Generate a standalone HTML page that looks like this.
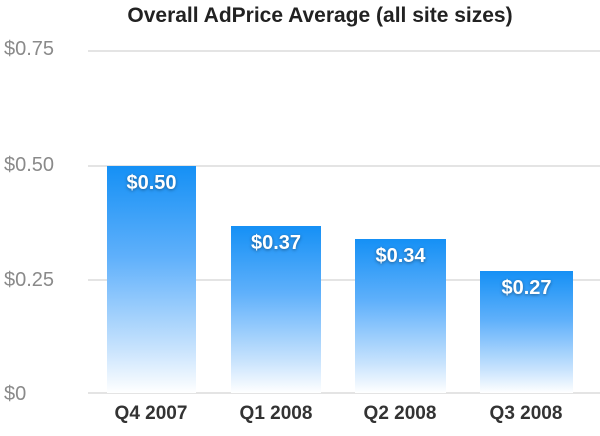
<!DOCTYPE html>
<html><head><style>
body{margin:0;width:600px;height:436px;background:#fff;position:relative;overflow:hidden;font-family:"Liberation Sans",sans-serif}
.t{position:absolute;left:0;width:100%;top:4px;text-align:center;font-weight:bold;font-size:21px;color:#222;padding-left:40px;box-sizing:border-box}
.g{position:absolute;left:88px;right:0;height:2px;background:#e4e4e4}
.y{position:absolute;left:4px;font-size:20px;color:#8a8a8a}
.b{position:absolute;bottom:43px;background:linear-gradient(#1590f5,#5fb0fb 40%,#c6e2fd 80%,#fff)}
.b span{display:block;text-align:center;color:#fff;font-weight:bold;font-size:20px;margin-top:6px;text-shadow:0 1px 3px rgba(0,0,0,.4)}
.x{position:absolute;top:403px;width:120px;text-align:center;font-weight:bold;font-size:19px;color:#333}
</style></head><body>
<div class="t">Overall AdPrice Average (all site sizes)</div>
<div class="g" style="top:50px"></div>
<div class="g" style="top:165px"></div>
<div class="g" style="top:279px"></div>
<div class="g" style="top:392px"></div>
<div class="y" style="top:38px">$0.75</div>
<div class="y" style="top:154px">$0.50</div>
<div class="y" style="top:269px">$0.25</div>
<div class="y" style="top:383px">$0</div>
<div class="b" style="left:107px;width:89px;top:166px"><span>$0.50</span></div>
<div class="b" style="left:231px;width:90px;top:226px"><span>$0.37</span></div>
<div class="b" style="left:355px;width:91px;top:239px"><span>$0.34</span></div>
<div class="b" style="left:480px;width:93px;top:271px"><span>$0.27</span></div>
<div class="x" style="left:91px">Q4 2007</div>
<div class="x" style="left:216px">Q1 2008</div>
<div class="x" style="left:340px">Q2 2008</div>
<div class="x" style="left:466px">Q3 2008</div>
</body></html>
